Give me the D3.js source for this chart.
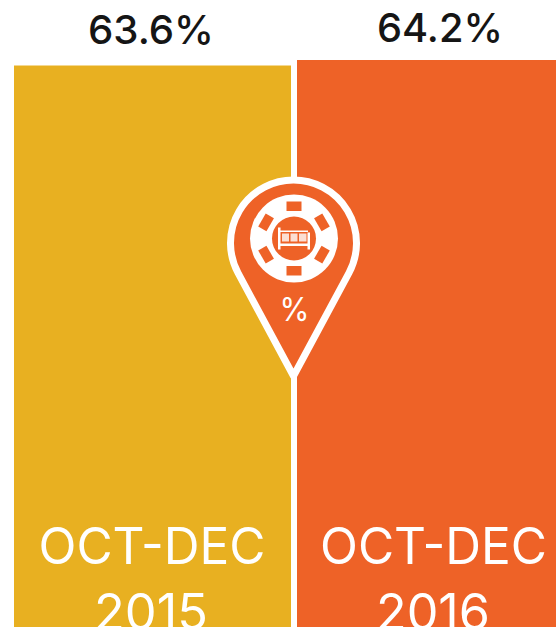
<!DOCTYPE html>
<html><head><meta charset="utf-8">
<script src="https://cdn.jsdelivr.net/npm/d3@7/dist/d3.min.js"></script>
<style>html,body{margin:0;padding:0;background:#fff;overflow:hidden}svg{display:block}
text{font-family:Inter,"Noto Sans",sans-serif}</style></head><body>
<script>
const periods = ["OCT-DEC 2015", "OCT-DEC 2016"];
const lines1 = ["OCT-DEC", "OCT-DEC"];
const lines2 = ["2015", "2016"];
const occupancy = [63.6, 64.2];
const valueLabels = ["63.6%", "64.2%"];
const colors = ["#E8B021", "#EE6227"];

const W = 556, H = 629;
const svg = d3.select("body").append("svg").attr("width", W).attr("height", H);
const x = d3.scaleBand().domain(periods).range([14, 574]).paddingInner(0.0212).paddingOuter(0);
const y = d3.scaleLinear().domain([2.4, 64.2]).range([627, 60]);

svg.append("defs").append("clipPath").attr("id", "plot")
  .append("rect").attr("x", 0).attr("y", 0).attr("width", W).attr("height", 627);

const data = periods.map((p, i) => ({p, v: occupancy[i], c: colors[i], l1: lines1[i], l2: lines2[i], lab: valueLabels[i]}));
const bars = svg.append("g");
bars.selectAll("rect").data(data).join("rect")
  .attr("x", d => x(d.p)).attr("width", x.bandwidth())
  .attr("y", d => y(d.v)).attr("height", d => y(2.4) - y(d.v))
  .attr("fill", d => d.c);

svg.append("g").selectAll("text").data(data).join("text")
  .attr("x", (d, i) => i ? 440 : 151).attr("y", (d, i) => i ? 42 : 44)
  .attr("text-anchor", "middle").attr("font-size", 40).attr("font-weight", 500)
  .attr("fill", "#151515").attr("textLength", 126).attr("lengthAdjust", "spacingAndGlyphs")
  .text(d => d.lab);

const cats = svg.append("g").attr("clip-path", "url(#plot)").attr("fill", "#fff").attr("font-weight", 400).attr("text-anchor", "middle");
cats.selectAll("text.a").data(data).join("text").attr("class", "a")
  .attr("x", (d, i) => i ? 433.5 : 152).attr("y", 564).attr("font-size", 50)
  .attr("textLength", 227).attr("lengthAdjust", "spacingAndGlyphs").text(d => d.l1);
cats.selectAll("text.b").data(data).join("text").attr("class", "b")
  .attr("x", (d, i) => i ? 433 : 151).attr("y", 630).attr("font-size", 50)
  .attr("textLength", 114).attr("lengthAdjust", "spacingAndGlyphs").text(d => d.l2);

// Map-pin emblem
const cx = 293.5, cy = 243, r = 63, tipY = 376;
const dist = tipY - cy, a = Math.acos(r / dist);
const pin = d3.path();
const angL = Math.PI / 2 + a, angR = Math.PI / 2 - a;
pin.moveTo(cx, tipY);
pin.lineTo(cx + r * Math.cos(angL), cy + r * Math.sin(angL));
pin.arc(cx, cy, r, angL, angR, false);
pin.closePath();
const g = svg.append("g");
g.append("path").attr("d", pin.toString()).attr("fill", "#EE6227").attr("stroke", "#fff")
  .attr("stroke-width", 7).attr("stroke-linejoin", "round");

const chipX = 294, chipY = 238.5;
g.append("circle").attr("cx", chipX).attr("cy", chipY).attr("r", 44).attr("fill", "#fff");
g.append("circle").attr("cx", chipX).attr("cy", chipY).attr("r", 22).attr("fill", "#EE6227");
[0, 60, 120, 180, 240, 300].forEach(t => {
  g.append("rect").attr("x", chipX - 7.5).attr("y", chipY - 37).attr("width", 15).attr("height", 9.5)
    .attr("fill", "#EE6227").attr("transform", `rotate(${t} ${chipX} ${chipY})`);
});
// bed icon
const bed = g.append("g").attr("fill", "#fff");
[[-16, -11, 2.5, 22], [13.5, -6, 2.5, 17], [-16, -8, 30, 1.5], [-14, 5, 28, 2.5]].forEach(q =>
  bed.append("rect").attr("x", chipX + q[0]).attr("y", chipY + q[1]).attr("width", q[2]).attr("height", q[3]));
[[-12, -5, 7, 8], [-3.5, -5, 7, 8], [5, -5, 7.5, 8]].forEach(q =>
  bed.append("rect").attr("x", chipX + q[0]).attr("y", chipY + q[1]).attr("width", q[2]).attr("height", q[3]).attr("opacity", 0.8));

g.append("text").attr("x", 294.5).attr("y", 321).attr("text-anchor", "middle")
  .attr("font-size", 33).attr("font-weight", 400).attr("fill", "#fff")
  .attr("textLength", 30).attr("lengthAdjust", "spacingAndGlyphs").text("%");
</script></body></html>
